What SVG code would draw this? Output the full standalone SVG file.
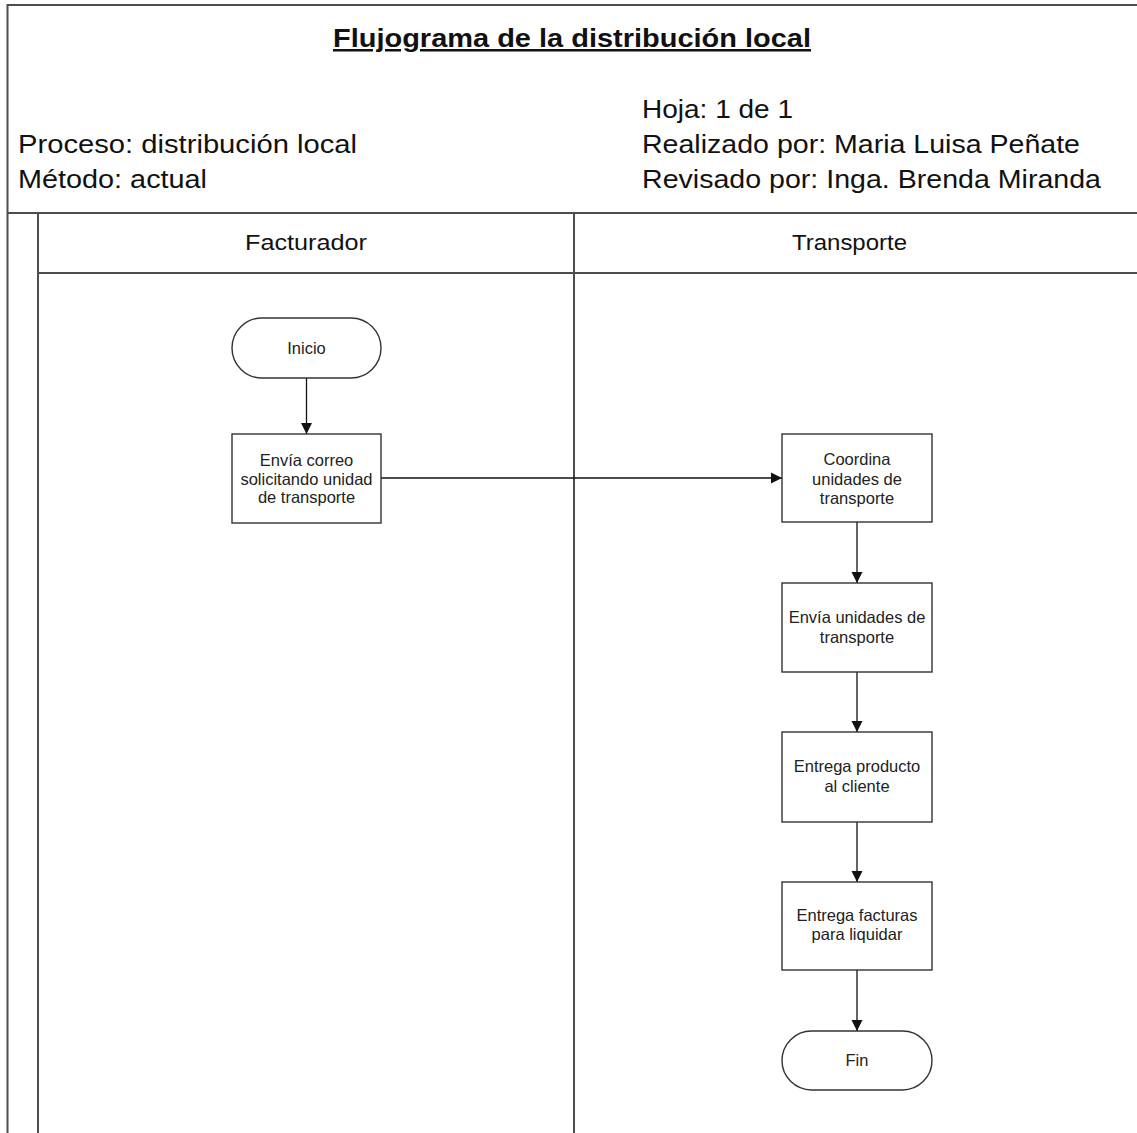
<svg xmlns="http://www.w3.org/2000/svg" width="1137" height="1133" viewBox="0 0 1137 1133">
  <style>
    .frame { stroke: #4d4d4d; stroke-width: 2; fill: none; }
    .shape { fill: #ffffff; stroke: #333333; stroke-width: 1.4; }
    .edge { stroke: #111111; stroke-width: 1.3; fill: none; marker-end: url(#arrow); }
    .head { font-family: "Liberation Sans", Arial, sans-serif; font-size: 25px; fill: #111111; }
    .title { font-family: "Liberation Sans", Arial, sans-serif; font-size: 25px; font-weight: bold; fill: #111111; text-decoration: underline; }
    .lane { font-family: "Liberation Sans", Arial, sans-serif; font-size: 22px; fill: #111111; text-anchor: middle; }
    .lbl { font-family: "Liberation Sans", Arial, sans-serif; font-size: 16.5px; fill: #222222; text-anchor: middle; }
  </style>
  <defs>
    <marker id="arrow" markerWidth="12" markerHeight="12" refX="11" refY="6" orient="auto" markerUnits="userSpaceOnUse">
      <path d="M0,0.5 L11,6 L0,11.5 Z" fill="#111111"/>
    </marker>
  </defs>

  <rect width="1137" height="1133" fill="#ffffff"/>

  <!-- sheet frame and swimlane grid -->
  <g id="frame">
    <path class="frame" d="M7.5,1133 V5 H1137"/>
    <path class="frame" d="M7.5,213 H1137"/>
    <path class="frame" d="M38,213 V1133"/>
    <path class="frame" d="M38,273 H1137"/>
    <path class="frame" d="M574,213 V1133"/>
  </g>

  <!-- header block -->
  <g id="header">
    <text class="title" x="333" y="47" textLength="478" lengthAdjust="spacingAndGlyphs">Flujograma de la distribución local</text>
    <text class="head" x="18" y="153" textLength="339" lengthAdjust="spacingAndGlyphs">Proceso: distribución local</text>
    <text class="head" x="18" y="188" textLength="189" lengthAdjust="spacingAndGlyphs">Método: actual</text>
    <text class="head" x="642" y="118" textLength="151" lengthAdjust="spacingAndGlyphs">Hoja: 1 de 1</text>
    <text class="head" x="642" y="153" textLength="438" lengthAdjust="spacingAndGlyphs">Realizado por: Maria Luisa Peñate</text>
    <text class="head" x="642" y="188" textLength="459" lengthAdjust="spacingAndGlyphs">Revisado por: Inga. Brenda Miranda</text>
  </g>

  <!-- lane titles -->
  <g id="lanes">
    <text class="lane" x="306" y="250" textLength="122" lengthAdjust="spacingAndGlyphs">Facturador</text>
    <text class="lane" x="849.5" y="250" textLength="115" lengthAdjust="spacingAndGlyphs">Transporte</text>
  </g>

  <!-- connectors -->
  <g id="connectors">
    <path class="edge" d="M306.5,378 V434"/>
    <path class="edge" d="M381,478 H782"/>
    <path class="edge" d="M857,522 V583"/>
    <path class="edge" d="M857,672 V732"/>
    <path class="edge" d="M857,822 V882"/>
    <path class="edge" d="M857,970 V1031"/>
  </g>

  <!-- nodes -->
  <g id="inicio">
    <rect class="shape" x="232" y="318" width="149" height="60" rx="30" ry="30"/>
    <text class="lbl" x="306.5" y="353.5">Inicio</text>
  </g>
  <g id="envia-correo">
    <rect class="shape" x="232" y="434" width="149" height="89"/>
    <text class="lbl" x="306.5" y="466">Envía correo</text>
    <text class="lbl" x="306.5" y="484.5">solicitando unidad</text>
    <text class="lbl" x="306.5" y="503">de transporte</text>
  </g>
  <g id="coordina">
    <rect class="shape" x="782" y="434" width="150" height="88"/>
    <text class="lbl" x="857" y="465">Coordina</text>
    <text class="lbl" x="857" y="484.5">unidades de</text>
    <text class="lbl" x="857" y="504">transporte</text>
  </g>
  <g id="envia-unidades">
    <rect class="shape" x="782" y="583" width="150" height="89"/>
    <text class="lbl" x="857" y="623">Envía unidades de</text>
    <text class="lbl" x="857" y="643">transporte</text>
  </g>
  <g id="entrega-producto">
    <rect class="shape" x="782" y="732" width="150" height="90"/>
    <text class="lbl" x="857" y="772">Entrega producto</text>
    <text class="lbl" x="857" y="792">al cliente</text>
  </g>
  <g id="entrega-facturas">
    <rect class="shape" x="782" y="882" width="150" height="88"/>
    <text class="lbl" x="857" y="921">Entrega facturas</text>
    <text class="lbl" x="857" y="940">para liquidar</text>
  </g>
  <g id="fin">
    <rect class="shape" x="782" y="1031" width="150" height="59" rx="29.5" ry="29.5"/>
    <text class="lbl" x="857" y="1065.5">Fin</text>
  </g>
</svg>
